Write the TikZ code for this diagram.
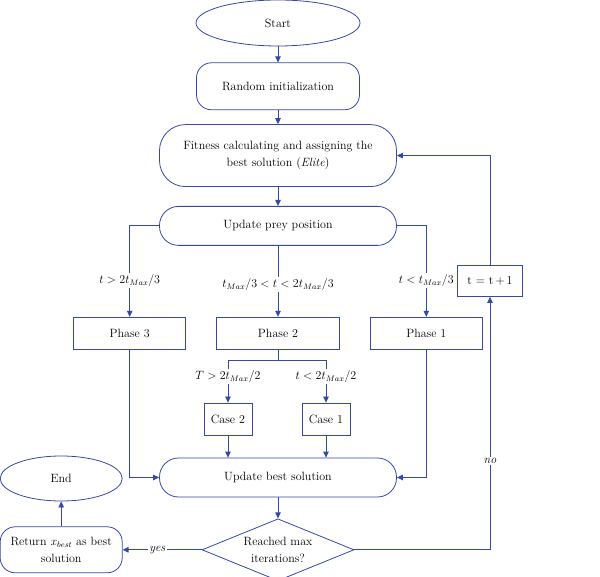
\documentclass[tikz,border=0pt]{standalone}
\usepackage{amsmath}
\usepackage{amssymb}
\usepackage{tikz}
\usetikzlibrary{positioning,shapes.geometric,arrows.meta}
\definecolor{flowblue}{RGB}{52,72,168}
\tikzset{node distance=16pt, >={Triangle[length=6pt,width=5.5pt]},
  every node/.style={font=\fontsize{12}{17}\selectfont, text=black},
  terminal/.style={draw=flowblue, ellipse, inner sep=0pt, minimum width=164pt, minimum height=46pt},
  process/.style={draw=flowblue, rectangle, inner sep=0pt, minimum height=32pt},
  roundbox/.style={draw=flowblue, rectangle, rounded corners=#1, inner sep=0pt, align=center, minimum width=237pt, minimum height=39pt},
  roundbox/.default=19pt,
  decision/.style={draw=flowblue, diamond, aspect=2.4, inner sep=0pt, align=center, minimum width=152pt, minimum height=62pt},
  cond/.style={fill=white, inner sep=1.5pt}}

\begin{document}
\begin{tikzpicture}[x=1pt, y=-1pt, flowblue, line width=0.8pt]
      \useasboundingbox (0,0) rectangle (600,577);
      \node[terminal] (start) at (278,23) {Start};
      \node[roundbox=15pt, minimum width=163pt, minimum height=47pt, below=16pt of start] (init) {Random initialization};
      \node[roundbox=26pt, minimum height=62pt, below=14pt of init] (fitness) {Fitness calculating and assigning the\\best solution (\textit{Elite})};
      \node[roundbox, below=19pt of fitness] (prey) {Update prey position};
      \node[process, minimum width=123pt, below=71pt of prey] (phase2) {Phase 2};
      \node[process, minimum width=112pt, left=30pt of phase2] (phase3) {Phase 3};
      \node[process, minimum width=112pt, right=30pt of phase2] (phase1) {Phase 1};
      \node[process, minimum width=48pt, below=53pt of phase2, xshift=-50pt] (case2) {Case 2};
      \node[process, minimum width=48pt, below=53pt of phase2, xshift=48pt] (case1) {Case 1};
      \node[roundbox, below=108pt of phase2] (best) {Update best solution};
      \node[decision, below=21pt of best] (reached) {Reached max\\iterations?};
      \node[roundbox=15pt, minimum width=122pt, minimum height=46pt, left=79pt of reached] (ret) {Return $x_{best}$ as best\\solution};
      \node[terminal, minimum width=122pt, minimum height=45pt, above=25pt of ret] (end) {End};
      \node[process, minimum width=65pt, minimum height=31pt] (tinc) at (490,281) {t = t\,+\,1};

      \draw[->] (start) -- (init);
      \draw[->] (init) -- (fitness);
      \draw[->] (fitness) -- (prey);
      \draw[->] (prey.west) -| node[cond, pos=0.8] {$t > 2t_{Max}/3$} (phase3);
      \draw[->] (prey) -- node[cond, pos=0.55] {$t_{Max}/3 < t < 2t_{Max}/3$} (phase2);
      \draw[->] (prey.east) -| node[cond, pos=0.8] {$t < t_{Max}/3$} (phase1);
      \draw (phase2.south) -- ++(0,11) coordinate (split);
      \draw[->] (split) -| node[cond, pos=0.69] {$T > 2t_{Max}/2$} (case2);
      \draw[->] (split) -| node[cond, pos=0.69] {$t < 2t_{Max}/2$} (case1);
      \draw[->] (phase3) |- (best);
      \draw[->] (phase1) |- (best);
      \draw[->] (case2) -- (case2 |- best.north);
      \draw[->] (case1) -- (case1 |- best.north);
      \draw[->] (best) -- (reached);
      \draw[->] (reached) -- node[cond, pos=0.56] {\textit{yes}} (ret);
      \draw[->] (ret) -- (end);
      \draw[->] (reached) -| node[cond, pos=0.675] {\textit{no}} (tinc);
      \draw[->] (tinc) |- (fitness);
\end{tikzpicture}
\end{document}
